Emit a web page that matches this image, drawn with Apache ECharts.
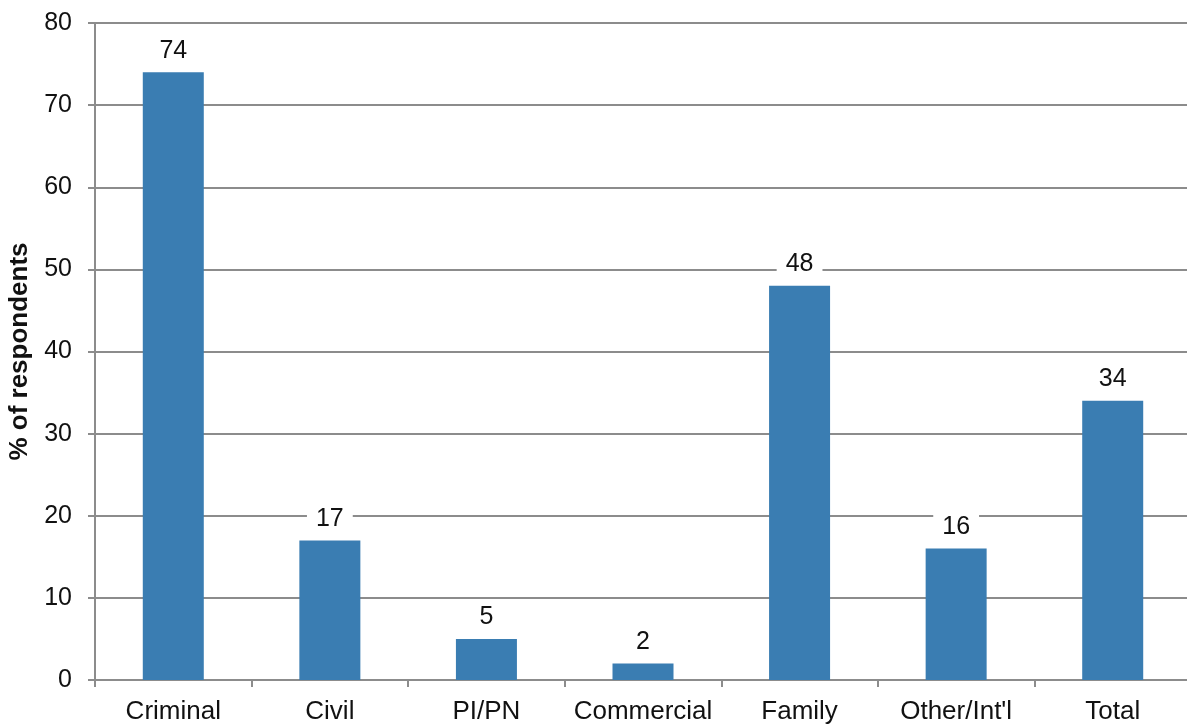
<!DOCTYPE html>
<html>
<head>
<meta charset="utf-8">
<script src="https://cdn.jsdelivr.net/npm/echarts@6/dist/echarts.min.js"></script>
<style>
  html, body { margin: 0; padding: 0; background: #ffffff; }
  #chart { width: 1187px; height: 724px; }
</style>
</head>
<body>
<div id="chart"></div>
<script>
// Share of respondents by practice area
const categories = ['Criminal', 'Civil', 'PI/PN', 'Commercial', 'Family', "Other/Int'l", 'Total'];
const respondents = [74, 17, 5, 2, 48, 16, 34];
const yTicks = [0, 10, 20, 30, 40, 50, 60, 70, 80];

const chart = echarts.init(document.getElementById('chart'));
const font = 'Liberation Sans, Arial, sans-serif';

chart.setOption({
  animation: false,
  backgroundColor: '#ffffff',
  grid: { left: 95, top: 23, width: 1096, bottom: 44, containLabel: false, outerBoundsMode: 'none' },
  xAxis: {
    type: 'category',
    data: categories,
    axisLine: { show: true, lineStyle: { color: '#8c8c8c', width: 2 } },
    axisTick: { show: true, interval: 0, alignWithLabel: false, length: 7, lineStyle: { color: '#8c8c8c', width: 2 } },
    axisLabel: { interval: 0, hideOverlap: false, color: '#111111', fontFamily: font, fontSize: 26, margin: 19 }
  },
  yAxis: {
    type: 'value',
    min: yTicks[0],
    max: yTicks[yTicks.length - 1],
    interval: 10,
    name: '% of respondents',
    nameLocation: 'middle',
    nameGap: 61,
    nameRotate: 90,
    nameTextStyle: { color: '#111111', fontFamily: font, fontSize: 26, fontWeight: 'bold' },
    axisLine: { show: true, lineStyle: { color: '#8c8c8c', width: 2 } },
    axisTick: { show: true, length: 7, lineStyle: { color: '#8c8c8c', width: 2 } },
    axisLabel: { color: '#111111', fontFamily: font, fontSize: 25, margin: 23 },
    splitLine: { show: true, lineStyle: { color: '#8c8c8c', width: 2 } }
  },
  series: [{
    type: 'bar',
    data: respondents,
    barWidth: 61,
    itemStyle: { color: '#3a7db2' },
    label: {
      show: true,
      position: 'top',
      distance: 8,
      color: '#111111',
      fontFamily: font,
      fontSize: 25,
      backgroundColor: '#ffffff',
      padding: [1, 9, 1, 9]
    }
  }]
});
</script>
</body>
</html>
